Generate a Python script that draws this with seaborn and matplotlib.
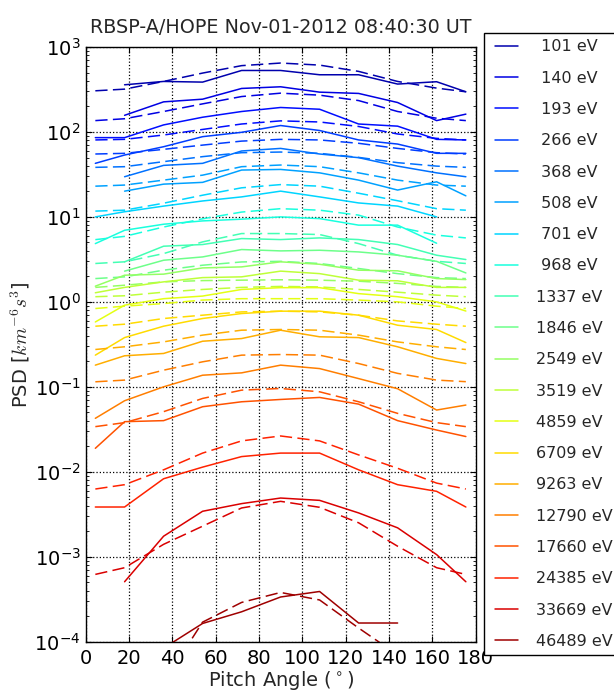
import matplotlib
matplotlib.use("Agg")
import matplotlib.pyplot as plt
from matplotlib.ticker import MultipleLocator, LogLocator
import numpy as np
import pandas as pd
import seaborn as sns

nan = np.nan

# HOPE pitch angle bins (deg)
pitch_angles = [4.5, 18, 36, 54, 72, 90, 108, 126, 144, 162, 175.5]

energies = [101, 140, 193, 266, 368, 508, 701, 968, 1337, 1846,
            2549, 3519, 4859, 6709, 9263, 12790, 17660, 24385, 33669, 46489]
energy_labels = ['%4d eV' % e for e in energies]

# PSD, solid curves (one row per energy)
psd_solid = [
    [nan, 359, 393, 386, 529, 529, 471, 471, 366, 390, 297],
    [nan, 157, 226, 243, 325, 340, 294, 284, 222, 136, 162],
    [85.7, 85.7, 121, 149, 174, 194, 185, 124, 117, 81.8, 80.5],
    [42.7, 53.5, 67, 88, 99, 119, 104, 80.5, 72, 56, 56],
    [nan, 29.7, 40.4, 42.7, 59.7, 64, 55, 49.8, 39.6, 33, 29.7],
    [nan, 20.1, 24.3, 25.5, 35.6, 36.2, 33, 27.1, 20.7, 25.9, 17.7],
    [10, 11.5, 13.4, 15.4, 17.2, 20.1, 17.2, 14.6, 13.4, 10, nan],
    [4.85, 6.96, 8.2, 8.97, 9.4, 10, 9.55, 8.0, 8.0, 4.9, nan],
    [nan, 2.96, 4.52, 4.73, 5.56, 5.41, 5.66, 5.41, 4.73, 3.54, 3.15],
    [nan, 2.3, 3.09, 3.38, 4.13, 3.98, 4.05, 3.87, 3.54, 3.0, 2.19],
    [1.53, 2.06, 2.12, 2.51, 2.58, 2.96, 2.77, 2.36, 2.32, 1.88, 1.83],
    [1.28, 1.48, 1.72, 1.93, 1.97, 2.3, 2.15, 1.8, 1.77, 1.48, 1.48],
    [0.58, 0.914, 1.09, 1.17, 1.4, 1.47, 1.47, 1.25, 1.15, 1.0, 0.78],
    [0.236, 0.38, 0.517, 0.637, 0.729, 0.777, 0.777, 0.697, 0.531, 0.473, 0.332],
    [0.18, 0.232, 0.247, 0.344, 0.37, 0.464, 0.388, 0.38, 0.296, 0.216, 0.188],
    [0.0426, 0.0686, 0.1, 0.137, 0.146, 0.18, 0.164, 0.125, 0.095, 0.0533, 0.061],
    [0.0189, 0.0389, 0.04, 0.0583, 0.0667, 0.071, 0.075, 0.0626, 0.04, 0.031, 0.026],
    [0.00385, 0.00385, 0.00828, 0.01135, 0.0151, 0.0166, 0.0166, 0.01055, 0.00705, 0.00589, 0.00385],
    [nan, 0.000508, 0.001745, 0.00343, 0.00422, 0.00491, 0.00461, 0.00328, 0.00219, 0.00106, 0.000508],
    [nan, nan, 0.000084, 0.000164, 0.000225, 0.000336, 0.00039, 0.000166, 0.000166, nan, nan],
]

# PSD, dashed curves
psd_dashed = [
    [305, 319, 393, 493, 603, 647, 612, 516, 393, 328, 297],
    [136, 143, 174, 214, 261, 286, 271, 234, 174, 145, 136],
    [80.5, 81.8, 92, 107, 124, 135, 131, 116, 94.6, 84, 80.5],
    [55, 56, 62.4, 70, 78, 81.8, 80.5, 73.5, 64, 57, 55],
    [38.3, 39, 44.7, 51.2, 57, 58, 56, 50.2, 43.5, 39.6, 38.3],
    [23, 23.7, 27.1, 31, 39, 40.8, 39, 33, 27.1, 23.7, 23],
    [11.7, 12, 14.5, 18, 22, 24, 23, 19, 15.5, 12.5, 12],
    [5.4, 5.9, 7.6, 9.5, 11.4, 12.5, 12, 10.5, 7.6, 6.1, 5.66],
    [2.83, 2.96, 3.7, 5.08, 6.37, 6.37, 6.2, 4.85, 3.54, 3.0, 2.83],
    [1.88, 1.97, 2.36, 2.7, 2.95, 3.0, 2.83, 2.47, 2.15, 1.93, 1.88],
    [1.48, 1.57, 1.72, 1.78, 1.8, 1.82, 1.8, 1.75, 1.65, 1.52, 1.48],
    [1.15, 1.18, 1.3, 1.4, 1.48, 1.52, 1.5, 1.4, 1.3, 1.2, 1.15],
    [0.835, 0.89, 0.955, 1.05, 1.09, 1.09, 1.09, 1.05, 1.0, 0.89, 0.835],
    [0.517, 0.546, 0.637, 0.697, 0.762, 0.777, 0.762, 0.697, 0.597, 0.546, 0.517],
    [0.275, 0.296, 0.338, 0.406, 0.464, 0.473, 0.464, 0.406, 0.338, 0.296, 0.275],
    [0.1146, 0.12, 0.157, 0.197, 0.236, 0.24, 0.236, 0.188, 0.144, 0.12, 0.115],
    [0.034, 0.0379, 0.051, 0.073, 0.0914, 0.0956, 0.0874, 0.0667, 0.0487, 0.0379, 0.034],
    [0.00627, 0.00705, 0.01055, 0.0166, 0.0231, 0.0264, 0.0231, 0.0158, 0.011, 0.00736, 0.00627],
    [0.00062, 0.000743, 0.0014, 0.00229, 0.00375, 0.00449, 0.00382, 0.00251, 0.00133, 0.000743, 0.00062],
    [nan, nan, 0.000033, 0.00017, 0.00029, 0.00038, 0.00031, 0.000145, 0.00007, nan, nan],
]

title = 'RBSP-A/HOPE Nov-01-2012 08:40:30 UT'

sns.set_style('white')
plt.rcParams.update({
    'font.family': ['DejaVu Sans'],
    'font.size': 14,
    'axes.edgecolor': 'black',
    'axes.linewidth': 1.0,
    'xtick.direction': 'in',
    'ytick.direction': 'in',
    'xtick.top': True,
    'ytick.right': True,
    'xtick.bottom': True,
    'ytick.left': True,
    'xtick.major.size': 4,
    'ytick.major.size': 4,
    'xtick.minor.size': 2,
    'ytick.minor.size': 2,
    'xtick.color': 'black',
    'ytick.color': 'black',
})

colors = plt.cm.jet(np.linspace(0.04, 0.97, len(energies)))

fig = plt.figure(figsize=(6.14, 6.96), dpi=100, facecolor='white')
ax = fig.add_axes([0.1394, 0.078, 0.6352, 0.8545])
ax.set_yscale('log')

handles = []
for i, lab in enumerate(energy_labels):
    df = pd.DataFrame({'pa': pitch_angles,
                       'solid': psd_solid[i],
                       'dashed': psd_dashed[i]})
    sns.lineplot(data=df, x='pa', y='solid', ax=ax, color=colors[i],
                 lw=1.1, errorbar=None, legend=False, label=lab)
    handles.append(ax.lines[-1])
    sns.lineplot(data=df, x='pa', y='dashed', ax=ax, color=colors[i],
                 lw=1.1, errorbar=None, legend=False,
                 linestyle=(0, (8, 3.5)))

ax.set_xlim(0, 180)
ax.set_ylim(1e-4, 1e3)
ax.xaxis.set_major_locator(MultipleLocator(20))
ax.yaxis.set_major_locator(LogLocator(base=10, numticks=12))
ax.yaxis.set_minor_locator(LogLocator(base=10, subs=np.arange(2, 10), numticks=12))
ax.tick_params(axis='both', which='both', labelsize=14)
ax.tick_params(axis='x', pad=5)
ax.grid(True, which='major', linestyle=':', color='black', linewidth=0.9)

ax.set_title(title, fontsize=13.8, pad=10)
ax.set_xlabel('Pitch Angle ($^\\circ$)', fontsize=14, labelpad=1)
ax.set_ylabel('PSD [$km^{-6}s^{3}$]', fontsize=14, labelpad=2,
              math_fontfamily='cm')

leg = fig.legend(handles, energy_labels, loc='upper left',
                 bbox_to_anchor=(484 / 614, 1 - 33 / 696),
                 fontsize=11.5, frameon=True, fancybox=False,
                 edgecolor='black', framealpha=1, numpoints=2,
                 handlelength=2.0, handletextpad=0.85,
                 labelspacing=1.02, borderpad=0.4, borderaxespad=0)
leg.get_frame().set_linewidth(1.0)

fig.savefig('out.png', dpi=100, facecolor='white')
